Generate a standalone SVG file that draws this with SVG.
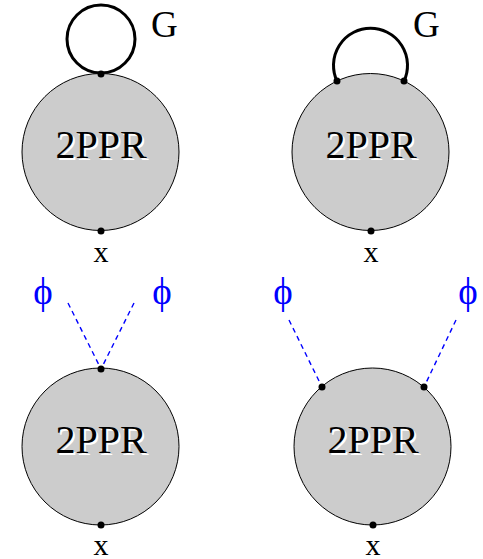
<svg xmlns="http://www.w3.org/2000/svg" width="483" height="559" viewBox="0 0 483 559">
<style>
.node{fill:#cccccc;stroke:#000;stroke-width:1}
.lbl{font-family:"Liberation Serif","Times New Roman",serif;font-size:40px;text-anchor:middle}
.sh{fill:#fff}
.tx{fill:#000}
.x{font-family:"Liberation Serif","Times New Roman",serif;font-size:30px;text-anchor:middle;fill:#000}
.g{font-family:"Liberation Serif","Times New Roman",serif;font-size:37px;fill:#000}
.phi{font-family:"Liberation Serif","DejaVu Serif",serif;font-size:37px;text-anchor:middle;fill:#0000ff}
.loop{fill:none;stroke:#000;stroke-width:3}
.dash{fill:none;stroke:#0000ff;stroke-width:1.4;stroke-dasharray:5 4}
.dot{fill:#000}
</style>
<g id="connectors">
<circle class="loop" cx="101" cy="39" r="34"/>
<path class="loop" d="M337,81 A37,37 0 1 1 404,81"/>
<line class="dash" x1="68" y1="303" x2="101" y2="369"/>
<line class="dash" x1="134" y1="303" x2="101" y2="369"/>
<line class="dash" x1="289" y1="320" x2="322" y2="387"/>
<line class="dash" x1="456" y1="320" x2="424" y2="387"/>
</g>
<g id="node1">
<circle class="node" cx="100.5" cy="152" r="78.5"/>
<text class="lbl sh" x="103" y="160">2PPR</text>
<text class="lbl tx" x="101" y="158">2PPR</text>
<circle class="dot" cx="101" cy="74" r="3.5"/>
<circle class="dot" cx="101" cy="231" r="3.5"/>
<text class="x" x="101" y="262">x</text>
<text class="g" x="151" y="37">G</text>
</g>
<g id="node2">
<circle class="node" cx="370.5" cy="152" r="78.5"/>
<text class="lbl sh" x="373" y="160">2PPR</text>
<text class="lbl tx" x="371" y="158">2PPR</text>
<circle class="dot" cx="337" cy="81" r="3.5"/>
<circle class="dot" cx="404" cy="81" r="3.5"/>
<circle class="dot" cx="371" cy="231" r="3.5"/>
<text class="x" x="371" y="262">x</text>
<text class="g" x="413" y="37">G</text>
</g>
<g id="node3">
<circle class="node" cx="100.5" cy="446.5" r="78.5"/>
<text class="lbl sh" x="103" y="455">2PPR</text>
<text class="lbl tx" x="101" y="453">2PPR</text>
<circle class="dot" cx="101" cy="369" r="3.5"/>
<circle class="dot" cx="101" cy="525" r="3.5"/>
<text class="x" x="101" y="555">x</text>
<text class="phi" x="43" y="304">ϕ</text>
<text class="phi" x="162" y="304">ϕ</text>
</g>
<g id="node4">
<circle class="node" cx="372.5" cy="446.5" r="78.5"/>
<text class="lbl sh" x="375" y="455">2PPR</text>
<text class="lbl tx" x="373" y="453">2PPR</text>
<circle class="dot" cx="322" cy="387" r="3.5"/>
<circle class="dot" cx="424" cy="387" r="3.5"/>
<circle class="dot" cx="373" cy="525" r="3.5"/>
<text class="x" x="373" y="555">x</text>
<text class="phi" x="283" y="304">ϕ</text>
<text class="phi" x="468" y="304">ϕ</text>
</g>
</svg>
